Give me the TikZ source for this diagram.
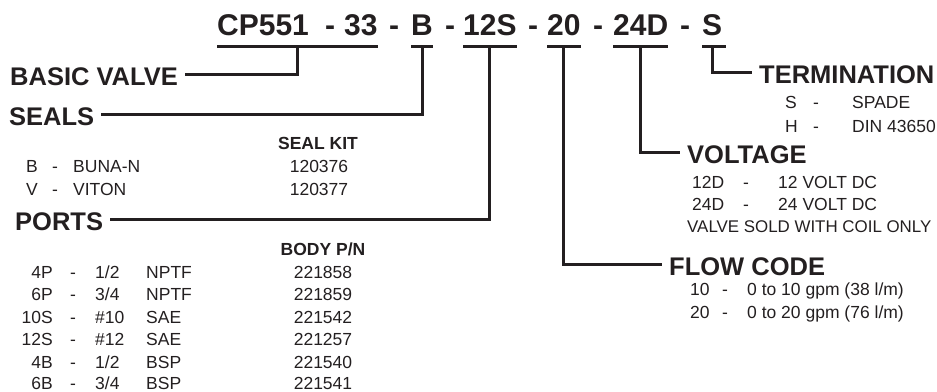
\documentclass[tikz,border=0pt]{standalone}
\usepackage{fontspec}
\setmainfont{Liberation Sans}
\usepackage{tikz}
\usetikzlibrary{calc}
\usepackage{xcolor}
\definecolor{ink}{RGB}{35,31,32}

\tikzset{
  code/.style={anchor=base west,inner sep=0pt,font=\fontsize{30}{36}\selectfont\bfseries},
  hdr/.style={anchor=base west,inner xsep=7pt,inner ysep=0pt,text height=21pt,text depth=0pt,font=\fontsize{25.5}{30}\selectfont\bfseries},
  colhdr/.style={anchor=base,inner sep=0pt,font=\fontsize{17.5}{21}\selectfont\bfseries},
  cell/.style={anchor=base west,inner sep=0pt,font=\fontsize{17.5}{21}\selectfont},
  rcell/.style={cell,anchor=base east},
  ccell/.style={cell,anchor=base},
  conn/.style={line width=3pt},
}

\begin{document}
\begin{tikzpicture}[x=1pt,y=1pt,yscale=-1,xscale=1,color=ink,text=ink]
\useasboundingbox (0,0) rectangle (937,391);

% Model code
\draw (217,35) node (cp) [code] {CP551};
\draw (325,35) node (d1) [code] {-};
\draw (344,35) node (n33) [code] {33};
\draw (389,35) node (d2) [code] {-};
\draw (411,35) node (sb) [code] {B};
\draw (445,35) node (d3) [code] {-};
\draw (463,35) node (s12) [code] {12S};
\draw (528,35) node (d4) [code] {-};
\draw (547,35) node (f20) [code] {20};
\draw (593,35) node (d5) [code] {-};
\draw (613,35) node (v24) [code] {24D};
\draw (680,35) node (d6) [code] {-};
\draw (702,35) node (ts) [code] {S};

% Text Node
\draw (3,85) node (basic) [hdr] {BASIC VALVE};
% Text Node
\draw (2,125) node (seals) [hdr] {SEALS};
% Text Node
\draw (8,230) node (ports) [hdr] {PORTS};
% Text Node
\draw (752,83) node (term) [hdr] {TERMINATION};
% Text Node
\draw (680,163) node (volt) [hdr] {VOLTAGE};
% Text Node
\draw (662,275) node (flow) [hdr] {FLOW CODE};

%Underlines and taps
\coordinate (tcp) at ([yshift=11pt]$(cp.base west)!0.5!(n33.base east)$);
\coordinate (tsb) at ([yshift=11pt]$(sb.base west)!0.5!(sb.base east)$);
\coordinate (ts12) at ([yshift=11pt]$(s12.base west)!0.5!(s12.base east)$);
\coordinate (tf20) at ([yshift=11pt]$(f20.base west)!0.5!(f20.base east)$);
\coordinate (tv24) at ([yshift=11pt]$(v24.base west)!0.5!(v24.base east)$);
\coordinate (tts) at ([yshift=11pt]$(ts.base west)!0.5!(ts.base east)$);
\draw [conn] ([yshift=11pt]cp.base west) -- ([yshift=11pt]n33.base east);
\draw [conn] ([yshift=11pt]sb.base west) -- ([yshift=11pt]sb.base east);
\draw [conn] ([yshift=11pt]s12.base west) -- ([yshift=11pt]s12.base east);
\draw [conn] ([yshift=11pt]f20.base west) -- ([yshift=11pt]f20.base east);
\draw [conn] ([yshift=11pt]v24.base west) -- ([yshift=11pt]v24.base east);
\draw [conn] ([yshift=11pt]ts.base west) -- ([shift={(4pt,11pt)}]ts.base east);

%Straight Lines
\draw [conn] (tcp) |- (basic.east);
\draw [conn] (tsb) |- (seals.east);
\draw [conn] (ts12) |- (ports.east);
\draw [conn] (tf20) |- (flow.west);
\draw [conn] (tv24) |- (volt.west);
\draw [conn] (tts) |- (term.west);

% Seals table
\draw (318,149) node (sealkit) [colhdr] {SEAL KIT};
\draw (26,172) node (sl1) [cell] {B};
\draw (52,172) node (sd1) [cell] {-};
\draw (73,172) node (sm1) [cell] {BUNA-N};
\draw (319,172) node (sk1) [ccell] {120376};
\draw (26,195) node (sl2) [cell] {V};
\draw (52,195) node (sd2) [cell] {-};
\draw (73,195) node (sm2) [cell] {VITON};
\draw (319,195) node (sk2) [ccell] {120377};

% Ports table
\draw (323,255) node (bodypn) [colhdr] {BODY P/N};
\draw (53,278) node (pc1) [rcell] {4P};
\draw (70,278) node (pd1) [cell] {-};
\draw (95,278) node (pz1) [cell] {1/2};
\draw (146,278) node (pt1) [cell] {NPTF};
\draw (323,278) node (pn1) [ccell] {221858};
\draw (53,300) node (pc2) [rcell] {6P};
\draw (70,300) node (pd2) [cell] {-};
\draw (95,300) node (pz2) [cell] {3/4};
\draw (146,300) node (pt2) [cell] {NPTF};
\draw (323,300) node (pn2) [ccell] {221859};
\draw (53,323) node (pc3) [rcell] {10S};
\draw (70,323) node (pd3) [cell] {-};
\draw (95,323) node (pz3) [cell] {\#10};
\draw (146,323) node (pt3) [cell] {SAE};
\draw (323,323) node (pn3) [ccell] {221542};
\draw (53,345) node (pc4) [rcell] {12S};
\draw (70,345) node (pd4) [cell] {-};
\draw (95,345) node (pz4) [cell] {\#12};
\draw (146,345) node (pt4) [cell] {SAE};
\draw (323,345) node (pn4) [ccell] {221257};
\draw (53,368) node (pc5) [rcell] {4B};
\draw (70,368) node (pd5) [cell] {-};
\draw (95,368) node (pz5) [cell] {1/2};
\draw (146,368) node (pt5) [cell] {BSP};
\draw (323,368) node (pn5) [ccell] {221540};
\draw (53,389) node (pc6) [rcell] {6B};
\draw (70,389) node (pd6) [cell] {-};
\draw (95,389) node (pz6) [cell] {3/4};
\draw (146,389) node (pt6) [cell] {BSP};
\draw (323,389) node (pn6) [ccell] {221541};

% Termination table
\draw (785,108) node (tl1) [cell] {S};
\draw (813,108) node (td1) [cell] {-};
\draw (852,108) node (tv1) [cell] {SPADE};
\draw (785,132) node (tl2) [cell] {H};
\draw (813,132) node (td2) [cell] {-};
\draw (852,132) node (tv2) [cell] {DIN 43650};

% Voltage table
\draw (692,188) node (vl1) [cell] {12D};
\draw (743,188) node (vd1) [cell] {-};
\draw (778,188) node (vv1) [cell] {12 VOLT DC};
\draw (692,210) node (vl2) [cell] {24D};
\draw (743,210) node (vd2) [cell] {-};
\draw (778,210) node (vv2) [cell] {24 VOLT DC};
\draw (687,232) node (vnote) [cell,font=\fontsize{16.9}{20}\selectfont] {VALVE SOLD WITH COIL ONLY};

% Flow table
\draw (690,295) node (fl1) [cell] {10};
\draw (722,295) node (fd1) [cell] {-};
\draw (747,295) node (fv1) [cell] {0 to 10 gpm (38 l/m)};
\draw (690,318) node (fl2) [cell] {20};
\draw (722,318) node (fd2) [cell] {-};
\draw (747,318) node (fv2) [cell] {0 to 20 gpm (76 l/m)};
\end{tikzpicture}
\end{document}
